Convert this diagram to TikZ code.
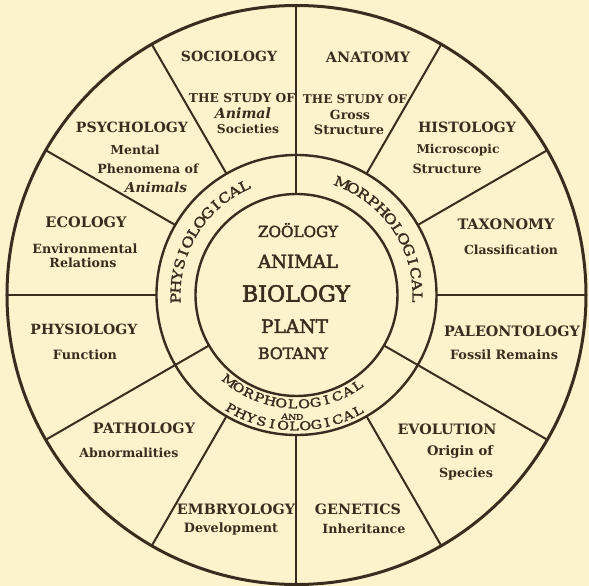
\documentclass[tikz,border=0pt]{standalone}
\usepackage{fontspec}
\setmainfont{DejaVu Serif}
\newfontfamily\medfont[FakeBold=2.5]{DejaVu Serif}
\newfontfamily\ringfont[FakeBold=2, FakeStretch=1.2]{DejaVu Serif}
\definecolor{paper}{RGB}{252,243,204}
\definecolor{ink}{RGB}{58,44,30}

% text set at the size that gives it the wanted width
\newcommand\fitw[3]{%
  \setbox0=\hbox{\fontsize{10pt}{12pt}\selectfont#2\selectfont #3}%
  \pgfmathsetmacro\fitsize{10*#1/\the\wd0}%
  \fontsize{\fitsize pt}{\fitsize pt}\selectfont#2\selectfont #3%
}

% letters set one by one along a circle
\newcommand\ringtext[7]{% #1 prefix, #2 radius, #3 first angle, #4 last angle, #5 rotation offset, #6 font, #7 letters
  \gdef\rtD{0}\gdef\rtprev{-1}\gdef\rtn{0}%
  \foreach \ch in {#7}{%
    \setbox0=\hbox{#6\ch}%
    \pgfmathsetmacro\rtw{\the\wd0}%
    \ifdim\rtprev pt<0pt\else
      \pgfmathsetmacro\rtt{\rtD+(\rtprev+\rtw)/2}\xdef\rtD{\rtt}%
    \fi
    \xdef\rtprev{\rtw}%
    \pgfmathtruncatemacro\rtt{\rtn+1}\xdef\rtn{\rtt}%
  }%
  \pgfmathsetmacro\rtsgn{((#4)>(#3))?1:-1}%
  \pgfmathsetmacro\rtextra{(abs((#4)-(#3))*pi/180*(#2)-\rtD)/(\rtn-1)}%
  \xdef\rtA{#3}\gdef\rtprev{-1}%
  \foreach \ch [count=\i] in {#7}{%
    \setbox0=\hbox{#6\ch}%
    \pgfmathsetmacro\rtw{\the\wd0}%
    \ifdim\rtprev pt<0pt\else
      \pgfmathsetmacro\rtt{\rtA+\rtsgn*((\rtprev+\rtw)/2+\rtextra)/(#2)*180/pi}\xdef\rtA{\rtt}%
    \fi
    \node[ringletter, rotate={\rtA+(#5)}] (#1-\i) at (\rtA:#2) {#6\ch};
    \xdef\rtprev{\rtw}%
  }%
}

\tikzset{
  ringletter/.style={inner sep=0pt, text=ink},
  lbl/.style={inner sep=0pt, anchor=base, text=ink},
  outerline/.style={draw=ink, line width=3pt},
  ringline/.style={draw=ink, line width=2.4pt},
  divider/.style={draw=ink, line width=2pt},
}

\begin{document}
\begin{tikzpicture}[x=1pt,y=1pt]
\useasboundingbox (-296.5,-291) rectangle (292.5,295);
\fill[paper] (-296.5,-291) rectangle (292.5,295);

% circles
\path[outerline] (0,0) circle[radius=289.5pt];
\path[ringline] (0,0) circle[radius=140pt];
\path[ringline] (0,0) circle[radius=101pt];

% dividers of the outer band
\foreach \a in {0,30,60,120,150,180,240,270,300}
  \path[divider] (\a:140) -- (\a:289.5);
% dividers that cross the ring too
\foreach \a in {90,210,330}
  \path[divider] (\a:101) -- (\a:289.5);

% ring texts
\ringtext{ph}{121}{181.5}{115.5}{-90}{\ringfont\fontsize{13.5pt}{13.5pt}\selectfont}{P,H,Y,S,I,O,L,O,G,I,C,A,L}
\ringtext{mo}{121}{67.7}{-1}{-90}{\ringfont\fontsize{13.5pt}{13.5pt}\selectfont}{M,O,R,P,H,O,L,O,G,I,C,A,L}
\ringtext{bm}{109}{232}{304}{90}{\ringfont\fontsize{12pt}{12pt}\selectfont}{M,O,R,P,H,O,L,O,G,I,C,A,L}
\ringtext{ba}{122}{264.5}{271.5}{90}{\ringfont\fontsize{8pt}{8pt}\selectfont}{A,N,D}
\ringtext{bp}{131}{240}{298}{90}{\ringfont\fontsize{12pt}{12pt}\selectfont}{P,H,Y,S,I,O,L,O,G,I,C,A,L}

% texts in picture coordinates
\begin{scope}[shift={(-296.5,295)}, y=-1pt]
% centre
\node[lbl] (zoo) at (298,237) {\fitw{80}{\medfont}{ZOÖLOGY}};
\node[lbl] (ani) at (298,268) {\fitw{80}{\medfont}{ANIMAL}};
\node[lbl] (bio) at (296,301.5) {\fitw{108}{\medfont}{BIOLOGY}};
\node[lbl] (pla) at (294.5,333) {\fitw{67}{\medfont}{PLANT}};
\node[lbl] (bot) at (293,359) {\fitw{70}{\medfont}{BOTANY}};
% sociology
\node[lbl] (soc1) at (229,62) {\fitw{96}{\bfseries}{SOCIOLOGY}};
\node[lbl] (soc2) at (242,103) {\fitw{106}{\bfseries}{THE STUDY OF}};
\node[lbl] (soc3) at (243,119) {\fitw{56}{\bfseries\itshape}{Animal}};
\node[lbl] (soc4) at (248,134) {\fitw{62}{\bfseries}{Societies}};
% anatomy
\node[lbl] (ana1) at (368,63) {\fitw{84}{\bfseries}{ANATOMY}};
\node[lbl] (ana2) at (355,104) {\fitw{104}{\bfseries}{THE STUDY OF}};
\node[lbl] (ana3) at (350,120) {\fitw{40}{\bfseries}{Gross}};
\node[lbl] (ana4) at (349,135) {\fitw{70}{\bfseries}{Structure}};
% histology
\node[lbl] (his1) at (467,133) {\fitw{98}{\bfseries}{HISTOLOGY}};
\node[lbl] (his2) at (458,154) {\fitw{83}{\bfseries}{Microscopic}};
\node[lbl] (his3) at (447,174) {\fitw{69}{\bfseries}{Structure}};
% taxonomy
\node[lbl] (tax1) at (506,230) {\fitw{97}{\bfseries}{TAXONOMY}};
\node[lbl] (tax2) at (511,255) {\fitw{94}{\bfseries}{Classification}};
% paleontology
\node[lbl] (pal1) at (512,337) {\fitw{136}{\bfseries}{PALEONTOLOGY}};
\node[lbl] (pal2) at (504,360) {\fitw{108}{\bfseries}{Fossil Remains}};
% evolution
\node[lbl] (evo1) at (447,434) {\fitw{99}{\bfseries}{EVOLUTION}};
\node[lbl] (evo2) at (460,455) {\fitw{66}{\bfseries}{Origin of}};
\node[lbl] (evo3) at (466,477) {\fitw{54}{\bfseries}{Species}};
% genetics
\node[lbl] (gen1) at (358,514) {\fitw{86}{\bfseries}{GENETICS}};
\node[lbl] (gen2) at (364,533) {\fitw{83}{\bfseries}{Inheritance}};
% embryology
\node[lbl] (emb1) at (236,514) {\fitw{118}{\bfseries}{EMBRYOLOGY}};
\node[lbl] (emb2) at (231,532) {\fitw{94}{\bfseries}{Development}};
% pathology
\node[lbl] (pat1) at (144,433) {\fitw{102}{\bfseries}{PATHOLOGY}};
\node[lbl] (pat2) at (129,457) {\fitw{99}{\bfseries}{Abnormalities}};
% physiology
\node[lbl] (phy1) at (84,335) {\fitw{107}{\bfseries}{PHYSIOLOGY}};
\node[lbl] (phy2) at (85,360) {\fitw{64}{\bfseries}{Function}};
% ecology
\node[lbl] (eco1) at (86,228) {\fitw{81}{\bfseries}{ECOLOGY}};
\node[lbl] (eco2) at (85,254) {\fitw{105}{\bfseries}{Environmental}};
\node[lbl] (eco3) at (83,268) {\fitw{67}{\bfseries}{Relations}};
% psychology
\node[lbl] (psy1) at (132,133) {\fitw{112}{\bfseries}{PSYCHOLOGY}};
\node[lbl] (psy2) at (135,155) {\fitw{49}{\bfseries}{Mental}};
\node[lbl] (psy3) at (148,174) {\fitw{101}{\bfseries}{Phenomena of}};
\node[lbl] (psy4) at (156,193) {\fitw{62}{\bfseries\itshape}{Animals}};
\end{scope}
\end{tikzpicture}
\end{document}
